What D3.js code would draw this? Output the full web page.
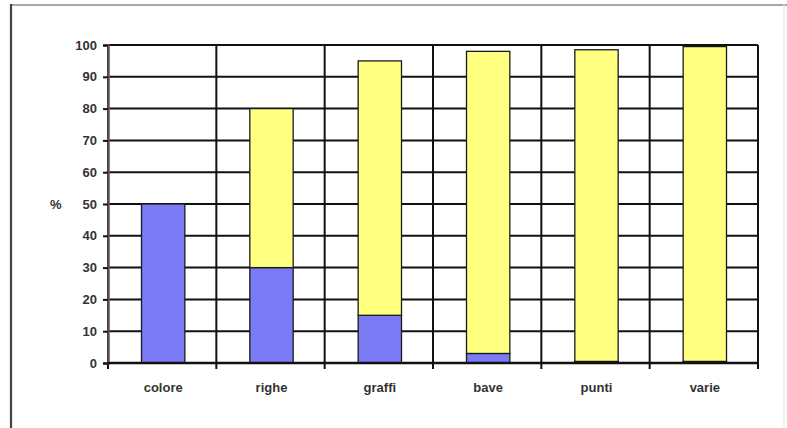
<!DOCTYPE html>
<html>
<head>
<meta charset="utf-8">
<script src="https://cdn.jsdelivr.net/npm/d3@7"></script>
<style>
  html, body { margin: 0; padding: 0; background: #fff; }
  svg { display: block; }
  text { font-family: "Liberation Sans", Arial, sans-serif; font-weight: bold; fill: #333; }
</style>
</head>
<body>
<svg id="chart" width="787" height="428"></svg>
<script>
// Categorie e valori (percentuali) delle due serie impilate
const categories = ["colore", "righe", "graffi", "bave", "punti", "varie"];
const serieBlu = [50, 30, 15, 3, 0.5, 0.5];
const serieGialla = [0, 50, 80, 95, 98, 99];
const yTicks = [0, 10, 20, 30, 40, 50, 60, 70, 80, 90, 100];

const rows = categories.map((c, i) => ({ cat: c, blu: serieBlu[i], giallo: serieGialla[i] }));
const colors = { blu: "#7b7bf5", giallo: "#ffff80" };

const svg = d3.select("#chart");
const W = 787, H = 428;
const m = { left: 108, right: 29, top: 45, bottom: 65 };
const fontSize = "13px";

// Cornice esterna
svg.append("line").attr("x1", 11).attr("x2", W).attr("y1", 5).attr("y2", 5)
  .attr("stroke", "#a8a8a8").attr("stroke-width", 2);
svg.append("line").attr("x1", 11).attr("x2", 11).attr("y1", 4).attr("y2", H)
  .attr("stroke", "#444").attr("stroke-width", 2.2);
svg.append("line").attr("x1", 784).attr("x2", 784).attr("y1", 4).attr("y2", H)
  .attr("stroke", "#e6e6e6").attr("stroke-width", 1);

const x = d3.scaleBand().domain(categories).range([m.left, W - m.right]).padding(0);
const y = d3.scaleLinear().domain([0, 100]).range([H - m.bottom, m.top]);

// Griglia orizzontale
svg.append("g").selectAll("line").data(yTicks).join("line")
  .attr("x1", m.left).attr("x2", W - m.right)
  .attr("y1", d => y(d)).attr("y2", d => y(d))
  .attr("stroke", "#111").attr("stroke-width", 2);

// Griglia verticale ai confini delle categorie
const bounds = categories.map(c => x(c)).concat([x.range()[1]]);
svg.append("g").selectAll("line").data(bounds).join("line")
  .attr("x1", d => d).attr("x2", d => d)
  .attr("y1", y(100)).attr("y2", y(0) + 6)
  .attr("stroke", "#111").attr("stroke-width", 2);

// Barre impilate
const stack = d3.stack().keys(["blu", "giallo"])(rows);
const bw = x.bandwidth() * 0.4;
svg.append("g").selectAll("g").data(stack).join("g")
  .attr("fill", d => colors[d.key])
  .selectAll("rect").data(d => d.filter(p => p[1] - p[0] > 0)).join("rect")
  .attr("x", d => x(d.data.cat) + x.bandwidth() / 2 - bw / 2 + 1)
  .attr("width", bw)
  .attr("y", d => y(d[1]))
  .attr("height", d => y(d[0]) - y(d[1]))
  .attr("stroke", "#1a1a1a").attr("stroke-width", 1.3);

// Asse Y
const yAxis = svg.append("g").attr("transform", `translate(${m.left},0)`)
  .call(d3.axisLeft(y).tickValues(yTicks).tickSize(5).tickPadding(6));
yAxis.select(".domain").attr("stroke", "#555").attr("stroke-width", 2.5);
yAxis.selectAll(".tick line").attr("stroke", "#111").attr("stroke-width", 2);
yAxis.selectAll("text").style("font-size", fontSize).attr("fill", "#333")
  .attr("font-family", null);

// Asse X
svg.append("line").attr("x1", m.left).attr("x2", W - m.right)
  .attr("y1", y(0)).attr("y2", y(0)).attr("stroke", "#111").attr("stroke-width", 2.5);
svg.append("g").selectAll("text").data(categories).join("text")
  .attr("x", d => x(d) + x.bandwidth() / 2 + 1)
  .attr("y", y(0) + 29)
  .attr("text-anchor", "middle")
  .style("font-size", fontSize)
  .text(d => d);

// Etichetta unità
svg.append("text").attr("x", 50).attr("y", y(50) + 5)
  .style("font-size", fontSize).text("%");
</script>
</body>
</html>
